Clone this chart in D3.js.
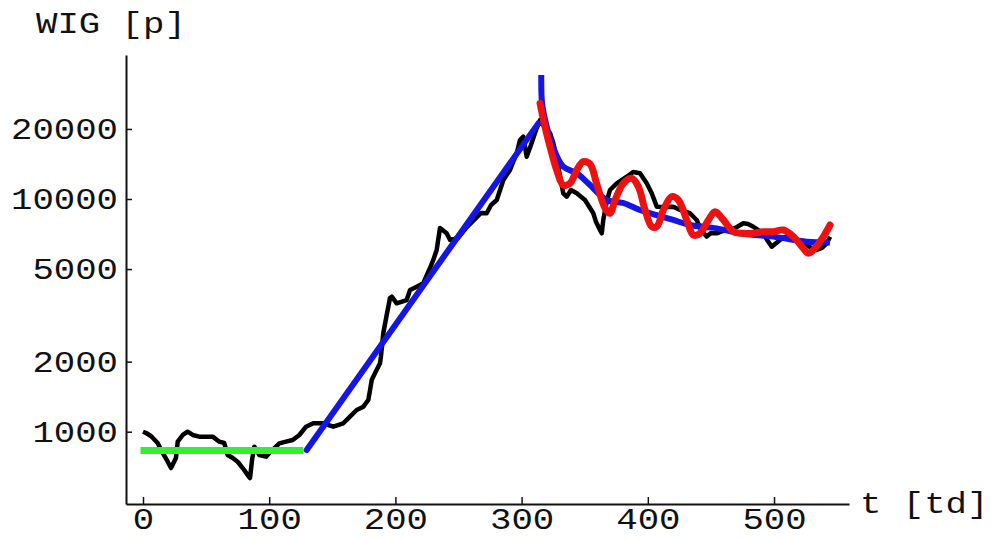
<!DOCTYPE html>
<html>
<head>
<meta charset="utf-8">
<script src="https://cdn.jsdelivr.net/npm/d3@7"></script>
<style>
  html, body { margin: 0; padding: 0; background: #fff; }
  svg { display: block; }
  text { font-family: "Liberation Mono", "DejaVu Sans Mono", monospace; fill: #111; }
</style>
</head>
<body>
<svg id="chart" width="992" height="540"></svg>
<script>
// WIG index (daily, trading days) and fitted regimes
const dataT = [0, 2.4, 6.3, 11.6, 15.6, 19.6, 22.2, 26.1, 27.5, 31.5, 35.4, 39.4, 44.6, 49.9, 55.2, 60.5, 64.4, 67.1,
  71.1, 75.0, 79.0, 83.0, 84.8, 86.4, 88.2, 92.2, 97.5, 100.1, 108.0, 113.3, 118.6, 123.9, 129.2, 134.9, 142.9, 150.8,
  158.7, 164.0, 169.3, 174.6, 178.5, 179.9, 181.2, 183.8, 187.8, 188.5, 190.4, 193.1, 194.4, 195.7, 197.1, 201.0, 208.9,
  211.6, 216.9, 222.1, 227.4, 230.0, 232.7, 235.3, 240.6, 243.3, 249.6, 255.9, 262.3, 267.8, 272.3, 275.8, 280.3, 285.5,
  290.8, 296.1, 298.7, 301.3, 304.0, 307.4, 311.4, 314.6, 318.5, 322.5, 325.1, 328.8, 333.0, 335.7, 339.1, 343.7, 350.2,
  356.8, 359.0, 362.1, 363.5, 364.7, 367.7, 370.0, 375.4, 383.3, 388.3, 393.8, 399.1, 403.1, 407.1, 413.6, 420.2, 425.5,
  433.4, 438.7, 442.1, 446.6, 450.0, 454.6, 459.5, 465.1, 470.6, 475.7, 479.4, 483.6, 487.3, 491.5, 494.5, 498.2, 500.8,
  504.8, 508.7, 512.7, 518.2, 523.2, 528.5, 533.8, 538.0, 541.8, 544.4];
const dataWig = [1000, 987, 958, 894, 810, 743, 698, 771, 906, 968, 1000, 968, 952, 952, 952, 906, 894, 794,
  771, 743, 698, 651, 632, 756, 862, 794, 781, 810, 891, 906, 921, 968, 1051, 1087, 1087, 1051,
  1087, 1160, 1240, 1281, 1368, 1510, 1667, 1782, 1968, 2100, 2648, 3174, 3443, 3754, 3803, 3563, 3680,
  4064, 4200, 4344, 5052, 5470, 6040, 7500, 7120, 6670, 6790, 7500, 8125, 8710, 8685, 9420, 9900, 12070,
  13320, 15720, 17930, 18520, 15200, 17060, 19800, 21830, 20180, 19210, 17400, 14000, 10580, 10230, 10930, 10580, 9900,
  8685, 7960, 7360, 7120, 8125, 9900, 10930, 11680, 12470, 13060, 12900, 11680, 10580, 9270, 9240, 9270, 8970,
  8685, 8125, 7360, 6890, 7140, 7120, 7285, 7360, 7580, 7865, 7810, 7600, 7360, 7120, 6670, 6240, 6410,
  6670, 6865, 6890, 6670, 6450, 6220, 6040, 6160, 6450, 6890];

// flat regime before the boom
const flatT = [-2, 127];
const flatV = [830, 830];

// exponential growth phase
const growthT = [129.7, 313.2];
const growthV = [834, 21130];

// decay after the crash
const decayT = [315.6, 316.2, 319.9, 324.9, 333.0, 343.7, 354.2, 367.4, 380.3, 393.8, 407.1, 420.2, 433.4, 454.6,
  473.1, 499.4, 525.9, 544.3];
const decayV = [34100, 25850, 20460, 16730, 13770, 12890, 11480, 9900, 9620, 8970, 8530, 8125, 7730, 7480,
  7120, 6890, 6555, 6500];

// log-periodic decay
const lpT = [314.6, 318.5, 322.5, 327.8, 333.0, 338.4, 343.7, 348.9, 354.2, 359.5, 366.1, 370.0, 374.1, 380.6, 387.2,
  392.5, 397.8, 403.1, 407.1, 412.3, 418.9, 424.2, 430.8, 436.1, 441.4, 448.0, 453.3, 459.9, 467.8, 475.7, 483.6,
  491.5, 499.4, 507.4, 515.3, 523.2, 527.2, 531.1, 539.1, 544.4];
const lpV = [25760, 20460, 16780, 13320, 11480, 11680, 13320, 14460, 14130, 11600, 9140, 8680, 9900, 11680, 12270,
  11300, 8970, 7610, 7610, 8970, 10230, 9900, 8125, 7000, 7120, 8125, 8820, 8125, 7235, 7120, 7120,
  7235, 7235, 7360, 6890, 6140, 5845, 6040, 6890, 7730];

const xMajorTicks = [0, 100, 200, 300, 400, 500];
const xMinorTicks = [20, 40, 60, 80, 120, 140, 160, 180, 220, 240, 260, 280, 320, 340, 360, 380, 420, 440, 460, 480, 520, 540];
const yMajorTicks = [1000, 2000, 5000, 10000, 20000];
const yMinorTicks = [3000, 4000, 6000, 7000, 8000, 9000, 30000];

const yTitle = "WIG [p]";
const xTitle = "t [td]";

const svg = d3.select("#chart");
const charW = 21.4; // horizontal advance per character
const fontPx = 30;

const x = d3.scaleLinear().domain([-13.47, 559.4]).range([126, 849]);
const y = d3.scaleLog().domain([489, 41570]).range([504, 55]);

const pts = (ts, vs) => ts.map((t, i) => [t, vs[i]]);
const line = d3.line().x(d => x(d[0])).y(d => y(d[1]));
const smooth = d3.line().x(d => x(d[0])).y(d => y(d[1])).curve(d3.curveCatmullRom.alpha(0.5));

function styleText(sel) {
  sel.style("font-size", fontPx + "px")
    .attr("textLength", function () { return this.textContent.length * charW; })
    .attr("lengthAdjust", "spacingAndGlyphs");
}

// axes: ticks point into the plot
const gx = svg.append("g").attr("transform", "translate(0,504)");
gx.call(d3.axisBottom(x).tickValues(xMinorTicks).tickSize(-4).tickSizeOuter(0).tickFormat(""));
gx.call(d3.axisBottom(x).tickValues(xMajorTicks).tickSize(-7).tickSizeOuter(0).tickPadding(4).tickFormat(d3.format("d")));

const gy = svg.append("g").attr("transform", "translate(126,0)");
gy.call(d3.axisLeft(y).tickValues(yMinorTicks).tickSize(-3).tickSizeOuter(0).tickFormat(""));
gy.call(d3.axisLeft(y).tickValues(yMajorTicks).tickSize(-6).tickSizeOuter(0).tickPadding(8).tickFormat(d3.format("d")));

svg.selectAll(".domain").attr("stroke", "#111").attr("stroke-width", 2);
svg.selectAll(".tick line").attr("stroke", "#111").attr("stroke-width", 1.5);
svg.selectAll(".tick text").call(styleText).attr("fill", "#111").attr("font-family", null);

// index data
svg.append("path").datum(pts(dataT, dataWig)).attr("d", line)
  .attr("fill", "none").attr("stroke", "#000").attr("stroke-width", 4.5)
  .attr("stroke-linejoin", "round");

// fits
svg.append("path").datum(pts(flatT, flatV)).attr("d", line)
  .attr("fill", "none").attr("stroke", "#33ee33").attr("stroke-width", 7);
svg.append("path").datum(pts(growthT, growthV)).attr("d", line)
  .attr("fill", "none").attr("stroke", "#1515e8").attr("stroke-width", 6).attr("stroke-linecap", "round");
svg.append("path").datum(pts(decayT, decayV)).attr("d", smooth)
  .attr("fill", "none").attr("stroke", "#1515e8").attr("stroke-width", 6).attr("stroke-linejoin", "round");
svg.append("path").datum(pts(lpT, lpV)).attr("d", smooth)
  .attr("fill", "none").attr("stroke", "#ee1111").attr("stroke-width", 7)
  .attr("stroke-linejoin", "round").attr("stroke-linecap", "round");

// axis titles
svg.append("text").attr("x", 36).attr("y", 33).text(yTitle).call(styleText);
svg.append("text").attr("x", 860).attr("y", 513).text(xTitle).call(styleText);
</script>
</body>
</html>
